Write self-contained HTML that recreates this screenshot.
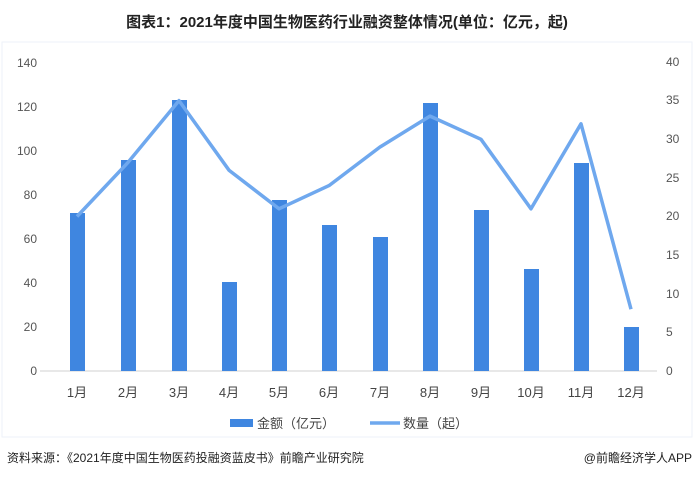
<!DOCTYPE html><html><head><meta charset="utf-8"><style>body{margin:0;background:#fff;width:694px;height:477px;overflow:hidden}</style></head><body>
<svg width="694" height="477" font-family="Liberation Sans, Noto Sans CJK SC, sans-serif">
<text x="347" y="27" text-anchor="middle" font-size="15" font-weight="bold" fill="#222">图表1：2021年度中国生物医药行业融资整体情况(单位：亿元，起)</text>
<rect x="2" y="42" width="690" height="395" fill="none" stroke="#eef2f8"/>
<line x1="40" y1="371" x2="657" y2="371" stroke="#d0d0d0"/>
<g font-size="12" fill="#555" text-anchor="end">
<text x="37" y="375">0</text><text x="37" y="331">20</text><text x="37" y="287">40</text><text x="37" y="243">60</text><text x="37" y="199">80</text><text x="37" y="155">100</text><text x="37" y="111">120</text><text x="37" y="67">140</text></g>
<g font-size="12" fill="#555" text-anchor="start">
<text x="666" y="375">0</text><text x="666" y="336">5</text><text x="666" y="298">10</text><text x="666" y="259">15</text><text x="666" y="220">20</text><text x="666" y="182">25</text><text x="666" y="143">30</text><text x="666" y="104">35</text><text x="666" y="66">40</text></g>
<g fill="#3f86e0">
<rect x="70" y="213" width="15" height="158"/><rect x="121" y="160" width="15" height="211"/><rect x="172" y="100" width="15" height="271"/><rect x="222" y="282" width="15" height="89"/><rect x="272" y="200" width="15" height="171"/><rect x="322" y="225" width="15" height="146"/><rect x="373" y="237" width="15" height="134"/><rect x="423" y="103" width="15" height="268"/><rect x="474" y="210" width="15" height="161"/><rect x="524" y="269" width="15" height="102"/><rect x="574" y="163" width="15" height="208"/><rect x="624" y="327" width="15" height="44"/></g>
<polyline fill="none" stroke="#6fa8ee" stroke-width="3.5" stroke-linejoin="round" points="77,216.5 128,162.4 179,100.6 229,170.2 279,208.8 329,185.6 380,147 430,116.1 481,139.3 531,208.8 581,123.8 631,309.2"/>
<g font-size="13" fill="#444" text-anchor="middle">
<text x="77" y="397">1月</text><text x="128" y="397">2月</text><text x="179" y="397">3月</text><text x="229" y="397">4月</text><text x="279" y="397">5月</text><text x="329" y="397">6月</text><text x="380" y="397">7月</text><text x="430" y="397">8月</text><text x="481" y="397">9月</text><text x="531" y="397">10月</text><text x="581" y="397">11月</text><text x="631" y="397">12月</text></g>
<rect x="230" y="419" width="23" height="8" fill="#3f86e0"/>
<text x="257" y="428" font-size="13" fill="#444">金额（亿元）</text>
<line x1="370" y1="423" x2="400" y2="423" stroke="#6fa8ee" stroke-width="3.5"/>
<text x="403" y="428" font-size="13" fill="#444">数量（起）</text>
<text x="7" y="462" font-size="12" fill="#222">资料来源：《2021年度中国生物医药投融资蓝皮书》前瞻产业研究院</text>
<text x="692" y="462" font-size="12" fill="#222" text-anchor="end">@前瞻经济学人APP</text>
</svg></body></html>
